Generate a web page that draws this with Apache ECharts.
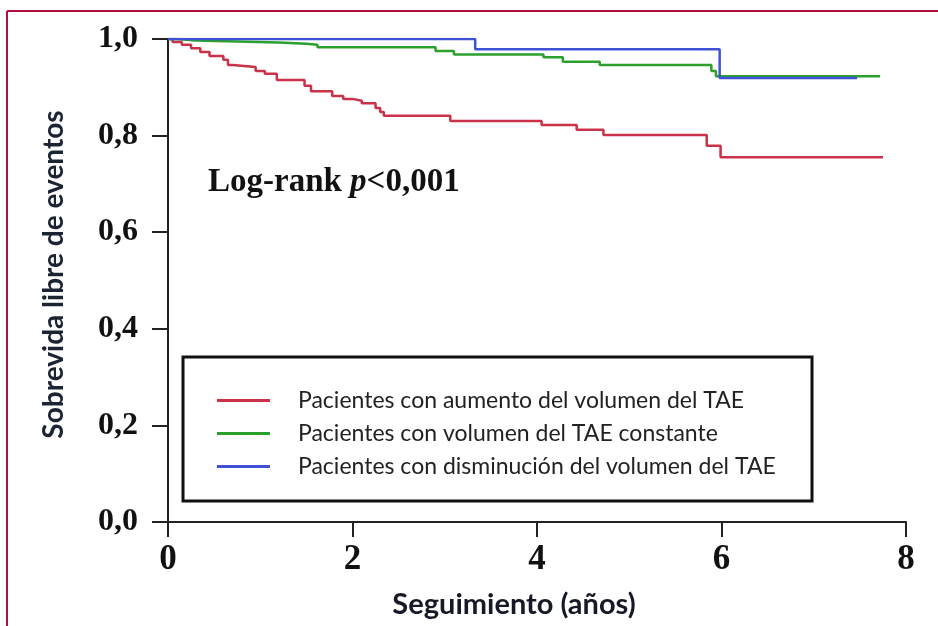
<!DOCTYPE html>
<html>
<head>
<meta charset="utf-8">
<title>Sobrevida libre de eventos</title>
<script src="https://cdn.jsdelivr.net/npm/echarts@6/dist/echarts.min.js"></script>
<style>
  html, body { margin: 0; padding: 0; background: #fff; }
  #chart { width: 938px; height: 626px; }
</style>
</head>
<body>
<div id="chart"></div>
<script>
// Kaplan-Meier curves (time in years, survival)
var redTimes   = [0, 0.05, 0.15, 0.25, 0.35, 0.45, 0.6, 0.65, 0.7, 0.95, 1.05, 1.18, 1.48, 1.55, 1.78, 1.9, 2.0, 2.1, 2.25, 2.3, 2.34, 3.06, 4.05, 4.43, 4.72, 5.84, 5.99, 7.75];
var redSurv    = [1.0, 0.994, 0.988, 0.981, 0.973, 0.965, 0.957, 0.946, 0.942, 0.934, 0.928, 0.915, 0.903, 0.892, 0.882, 0.876, 0.872, 0.867, 0.857, 0.849, 0.841, 0.830, 0.822, 0.812, 0.801, 0.779, 0.755, 0.755];
var greenTimes = [0, 0.1, 0.3, 1.2, 1.5, 1.62, 2.9, 3.1, 4.07, 4.28, 4.68, 5.89, 5.94, 7.72];
var greenSurv  = [1.0, 0.997, 0.993, 0.990, 0.988, 0.983, 0.975, 0.968, 0.962, 0.953, 0.946, 0.934, 0.923, 0.923];
var blueTimes  = [0, 3.33, 5.98, 7.47];
var blueSurv   = [1.0, 0.979, 0.919, 0.919];

var seriesNames = [
  'Pacientes con aumento del volumen del TAE',
  'Pacientes con volumen del TAE constante',
  'Pacientes con disminución del volumen del TAE'
];
var seriesColors = ['#c93248', '#2ca02c', '#3f51d4'];
var xTicks = [0, 2, 4, 6, 8];
var yTicks = [0, 0.2, 0.4, 0.6, 0.8, 1.0];

function pairs(t, s) {
  return t.map(function (v, i) { return [v, s[i]]; });
}

var curves = [pairs(redTimes, redSurv), pairs(greenTimes, greenSurv), pairs(blueTimes, blueSurv)];

var chart = echarts.init(document.getElementById('chart'));

var serifBold = { fontFamily: 'Liberation Serif', fontWeight: 'bold', color: '#111' };

chart.setOption({
  backgroundColor: '#fff',
  animation: false,
  grid: { left: 168, right: 32, top: 39, bottom: 104 },
  xAxis: {
    type: 'value',
    min: xTicks[0], max: xTicks[xTicks.length - 1], interval: 2,
    name: 'Seguimiento (años)',
    nameLocation: 'middle',
    nameGap: 68,
    nameTextStyle: { fontFamily: 'Lato', fontWeight: 'bold', fontSize: 29, color: '#151a26', padding: [0, 46, 0, 0] },
    axisLine: { lineStyle: { color: '#222', width: 2 } },
    axisTick: { length: 15, lineStyle: { color: '#222', width: 2 } },
    axisLabel: Object.assign({ fontSize: 35, margin: 20 }, serifBold),
    splitLine: { show: false }
  },
  yAxis: {
    type: 'value',
    min: yTicks[0], max: yTicks[yTicks.length - 1], interval: 0.2,
    name: 'Sobrevida libre de eventos',
    nameLocation: 'middle',
    nameGap: 100,
    nameTextStyle: { fontFamily: 'Lato', fontWeight: 'bold', fontSize: 28, color: '#1c2433', padding: [0, 0, 0, 12] },
    axisLine: { show: true, lineStyle: { color: '#222', width: 2 } },
    axisTick: { show: true, length: 16, lineStyle: { color: '#222', width: 2 } },
    axisLabel: Object.assign({
      fontSize: 32, margin: 30,
      formatter: function (v) { return v.toFixed(1).replace('.', ','); }
    }, serifBold),
    splitLine: { show: false }
  },
  legend: {
    orient: 'vertical',
    left: 212, top: 384,
    icon: 'rect',
    itemWidth: 53, itemHeight: 3,
    itemGap: 10,
    textStyle: { fontFamily: 'Lato', fontSize: 23, color: '#222', padding: [0, 0, 0, 23] },
    data: seriesNames
  },
  graphic: [
    { type: 'line', shape: { x1: 7, y1: 11, x2: 938, y2: 11 }, style: { stroke: '#b0103c', lineWidth: 2 } },
    { type: 'line', shape: { x1: 7, y1: 11, x2: 7, y2: 626 }, style: { stroke: '#b0103c', lineWidth: 2 } },
    { type: 'rect', shape: { x: 183, y: 357, width: 629, height: 144 }, style: { fill: 'none', stroke: '#111', lineWidth: 3 } },
    {
      type: 'text', left: 208, top: 166,
      style: {
        text: '{a|Log-rank }{b|p}{a|<0,001}',
        rich: {
          a: { fontFamily: 'Liberation Serif', fontWeight: 'bold', fontSize: 33, fill: '#111' },
          b: { fontFamily: 'Liberation Serif', fontWeight: 'bold', fontStyle: 'italic', fontSize: 33, fill: '#111' }
        }
      }
    }
  ],
  series: curves.map(function (d, i) {
    return {
      name: seriesNames[i],
      type: 'line',
      step: 'end',
      showSymbol: false,
      data: d,
      itemStyle: { color: seriesColors[i] },
      lineStyle: { color: seriesColors[i], width: 2.5 }
    };
  })
});
</script>
</body>
</html>
